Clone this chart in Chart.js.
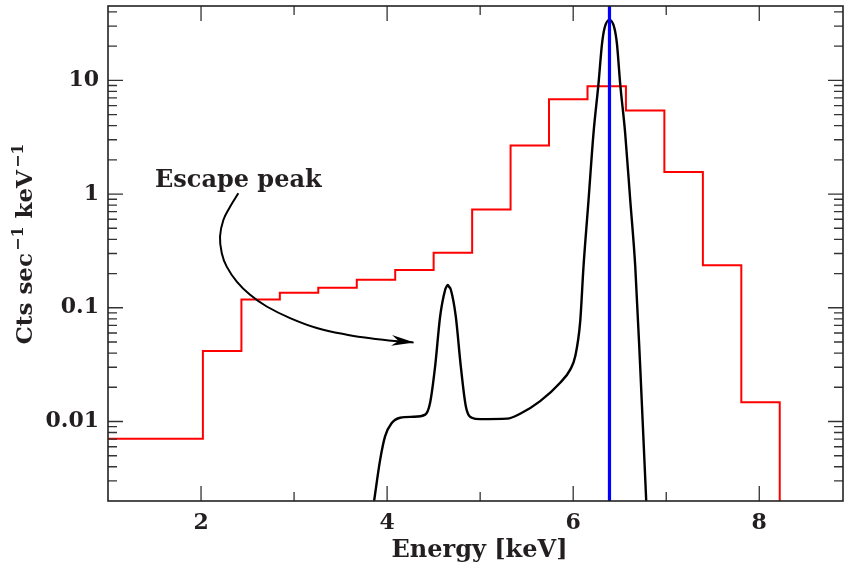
<!DOCTYPE html>
<html>
<head>
<meta charset="utf-8">
<script src="https://cdn.jsdelivr.net/npm/chart.js@4.4.1/dist/chart.umd.min.js"></script>
<style>
html,body{margin:0;padding:0;background:#fff;}
#wrap{width:844px;height:567px;position:relative;}
</style>
</head>
<body>
<div id="wrap"><canvas id="c" width="844" height="567"></canvas></div>
<script>
// ---- data ----
const binEdges = [1.0, 2.02, 2.434, 2.847, 3.26, 3.674, 4.087, 4.5, 4.914, 5.327, 5.74, 6.154, 6.567, 6.98, 7.394, 7.807, 8.22];
const binCounts = [0.00705, 0.0417, 0.118, 0.1355, 0.150, 0.176, 0.215, 0.305, 0.73, 2.67, 6.8, 8.86, 5.42, 1.56, 0.237, 0.0148, 0.0001];

const modelE = [3.86, 3.925, 3.978, 4.05, 4.14, 4.28, 4.41, 4.462, 4.516, 4.57, 4.624, 4.638, 4.652, 4.666, 4.685, 4.738, 4.792, 4.846, 4.91, 5.0, 5.29, 5.43, 5.645, 5.86, 5.968, 6.022, 6.075, 6.111, 6.165, 6.218, 6.272, 6.31, 6.338, 6.39, 6.442, 6.47, 6.505, 6.559, 6.613, 6.667, 6.72, 6.785];
const modelY = [0.002, 0.0046, 0.0074, 0.0097, 0.0108, 0.011, 0.0115, 0.0146, 0.0305, 0.084, 0.144, 0.153, 0.159, 0.153, 0.144, 0.084, 0.0305, 0.0136, 0.0108, 0.0105, 0.0106, 0.0117, 0.0151, 0.0219, 0.0286, 0.0374, 0.075, 0.231, 0.886, 3.4, 9.35, 21, 29, 34, 29, 21, 9.35, 3.4, 0.886, 0.231, 0.0305, 0.002];

const lineE = 6.39;

const arrowE = [2.401, 2.312, 2.240, 2.204, 2.223, 2.276, 2.384, 2.527, 2.706, 2.957, 3.244, 3.567, 3.853, 4.140, 4.283];
const arrowY = [1.014, 0.774, 0.591, 0.422, 0.302, 0.230, 0.170, 0.130, 0.1026, 0.0812, 0.0664, 0.0580, 0.0535, 0.0506, 0.0496];
const noteText = "Escape peak";
const noteE = 1.505, noteY = 1.30;

const xTicks = [2, 4, 6, 8];
const xMinorTicks = [3, 5, 7];
const yTicks = [0.01, 0.1, 1, 10];
const yTickLabels = ["0.01", "0.1", "1", "10"];
const xTitle = "Energy [keV]";
const yTitleParts = [["Cts sec", false], ["\u22121", true], [" keV", false], ["\u22121", true]];

const xMin = 1, xMax = 8.9, yMin = 0.002, yMax = 45;

// ---- build ----
const SERIF = '"DejaVu Serif", "Liberation Serif", serif';
const TXT = '#231f20';
const pts = (xs, ys) => xs.map((x, i) => ({x, y: ys[i]}));

const yMinor = [];
for (let e = -3; e <= 1; e++) {
  for (let m = 2; m <= 9; m++) {
    const v = m * Math.pow(10, e);
    if (v > yMin && v < yMax) yMinor.push(v);
  }
}

const decor = {
  id: 'decor',
  afterDatasetsDraw(chart) {
    const {ctx, chartArea: a, scales: {x, y}} = chart;
    ctx.save();
    ctx.strokeStyle = '#333';
    ctx.lineWidth = 1.3;
    const tick = (px, len, vertical) => {
      ctx.beginPath();
      if (vertical) {
        ctx.moveTo(px, a.bottom); ctx.lineTo(px, a.bottom - len);
        ctx.moveTo(px, a.top); ctx.lineTo(px, a.top + len);
      } else {
        ctx.moveTo(a.left, px); ctx.lineTo(a.left + len, px);
        ctx.moveTo(a.right, px); ctx.lineTo(a.right - len, px);
      }
      ctx.stroke();
    };
    xTicks.forEach(v => tick(x.getPixelForValue(v), 15, true));
    xMinorTicks.forEach(v => tick(x.getPixelForValue(v), 9, true));
    yTicks.forEach(v => tick(y.getPixelForValue(v), 15, false));
    yMinor.forEach(v => tick(y.getPixelForValue(v), 9, false));
    ctx.lineWidth = 1.6;
    ctx.strokeStyle = '#222';
    ctx.strokeRect(a.left, a.top, a.right - a.left, a.bottom - a.top);

    // arrow head
    const n = arrowE.length;
    const tx = x.getPixelForValue(arrowE[n - 1]), ty = y.getPixelForValue(arrowY[n - 1]);
    const px = x.getPixelForValue(arrowE[n - 3]), py = y.getPixelForValue(arrowY[n - 3]);
    const ang = Math.atan2(ty - py, tx - px);
    ctx.translate(tx, ty);
    ctx.rotate(ang);
    ctx.fillStyle = '#000';
    ctx.beginPath();
    ctx.moveTo(1, 0);
    ctx.lineTo(-22, -5.5);
    ctx.lineTo(-15, 0);
    ctx.lineTo(-22, 5.5);
    ctx.closePath();
    ctx.fill();
    ctx.restore();

    // annotation text
    ctx.save();
    ctx.fillStyle = TXT;
    ctx.font = 'bold 24px ' + SERIF;
    ctx.textAlign = 'left';
    ctx.textBaseline = 'middle';
    ctx.fillText(noteText, x.getPixelForValue(noteE), y.getPixelForValue(noteY));
    ctx.restore();

    // axis titles
    ctx.save();
    ctx.fillStyle = TXT;
    ctx.font = 'bold 24px ' + SERIF;
    ctx.textAlign = 'center';
    ctx.textBaseline = 'middle';
    ctx.fillText(xTitle, (a.left + a.right) / 2 + 4, 551);
    // y title with superscripts
    const bigF = 'bold 23px ' + SERIF, supF = 'bold 16px ' + SERIF;
    let total = 0;
    yTitleParts.forEach(([t, sup]) => { ctx.font = sup ? supF : bigF; total += ctx.measureText(t).width + (sup ? 2 : 0); });
    ctx.translate(24, 244);
    ctx.rotate(-Math.PI / 2);
    ctx.textAlign = 'left';
    ctx.textBaseline = 'alphabetic';
    let cx = -total / 2;
    yTitleParts.forEach(([t, sup]) => {
      ctx.font = sup ? supF : bigF;
      if (sup) cx += 2;
      ctx.fillText(t, cx, sup ? -1 : 8);
      cx += ctx.measureText(t).width;
    });
    ctx.restore();
  }
};

new Chart(document.getElementById('c'), {
  type: 'line',
  data: {
    datasets: [
      {data: [{x: lineE, y: yMin}, {x: lineE, y: yMax}], borderColor: '#0000ff', borderWidth: 3.2, pointRadius: 0, order: 0, clip: 0},
      {data: pts(arrowE, arrowY), borderColor: '#000', borderWidth: 2, pointRadius: 0, tension: 0.4, order: 1},
      {data: pts(modelE, modelY), borderColor: '#000', borderWidth: 2.4, pointRadius: 0, cubicInterpolationMode: 'monotone', order: 2, clip: 0},
      {data: pts(binEdges, binCounts), borderColor: '#ff0000', borderWidth: 2, pointRadius: 0, stepped: 'before', order: 3, clip: 0}
    ]
  },
  options: {
    responsive: false,
    animation: false,
    layout: {padding: {top: 6, right: 1, left: 0, bottom: 0}},
    plugins: {legend: {display: false}, tooltip: {enabled: false}},
    scales: {
      x: {
        type: 'linear', min: xMin, max: xMax,
        grid: {display: false, drawTicks: false}, border: {display: false},
        afterBuildTicks: s => { s.ticks = xTicks.map(v => ({value: v})); },
        afterFit: s => { s.height = 66; s.paddingLeft = 0; s.paddingRight = 0; },
        ticks: {font: {family: SERIF, size: 22, weight: 'bold'}, color: TXT, padding: 9, maxRotation: 0,
                callback: v => String(v)}
      },
      y: {
        type: 'logarithmic', min: yMin, max: yMax,
        grid: {display: false, drawTicks: false}, border: {display: false},
        afterBuildTicks: s => { s.ticks = yTicks.map(v => ({value: v})); },
        afterFit: s => { s.width = 108; s.paddingTop = 0; s.paddingBottom = 0; },
        ticks: {font: {family: SERIF, size: 22, weight: 'bold'}, color: TXT, padding: 9,
                callback: v => { const i = yTicks.findIndex(t => Math.abs(t - v) / t < 1e-6); return i >= 0 ? yTickLabels[i] : ''; }}
      }
    }
  },
  plugins: [decor]
});
</script>
</body>
</html>
